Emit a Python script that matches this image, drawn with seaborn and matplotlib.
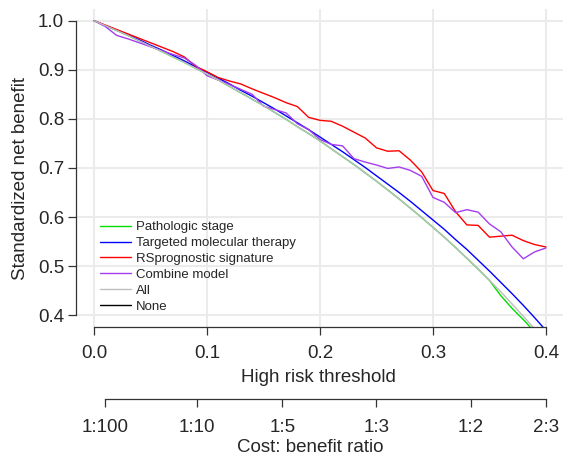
import numpy as np
import pandas as pd
import matplotlib
matplotlib.use("Agg")
import matplotlib.pyplot as plt
import seaborn as sns

# ---------------- data ----------------
thresholds = [round(0.01 * i, 2) for i in range(41)]

pathologic_stage = [1.000, 0.990, 0.980, 0.970, 0.959, 0.948, 0.937, 0.926, 0.915, 0.903,
                    0.891, 0.879, 0.866, 0.853, 0.840, 0.827, 0.813, 0.799, 0.784, 0.770,
                    0.755, 0.739, 0.723, 0.707, 0.690, 0.673, 0.655, 0.637, 0.618, 0.599,
                    0.579, 0.559, 0.538, 0.516, 0.494, 0.471, 0.440, 0.414, 0.391, 0.366,
                    0.340]
targeted_therapy = [1.000, 0.990, 0.981, 0.971, 0.961, 0.950, 0.940, 0.929, 0.918, 0.906,
                    0.895, 0.883, 0.871, 0.858, 0.846, 0.833, 0.820, 0.806, 0.792, 0.778,
                    0.763, 0.748, 0.733, 0.717, 0.701, 0.684, 0.667, 0.650, 0.632, 0.613,
                    0.594, 0.575, 0.554, 0.534, 0.512, 0.490, 0.467, 0.444, 0.420, 0.395,
                    0.369]
rs_signature = [1.000, 0.991, 0.982, 0.973, 0.964, 0.955, 0.946, 0.937, 0.926, 0.907,
                0.896, 0.884, 0.877, 0.871, 0.861, 0.852, 0.843, 0.833, 0.825, 0.803,
                0.797, 0.795, 0.785, 0.773, 0.761, 0.741, 0.734, 0.735, 0.716, 0.692,
                0.654, 0.648, 0.611, 0.584, 0.583, 0.559, 0.561, 0.563, 0.552, 0.544,
                0.539]
combine_model = [1.000, 0.988, 0.970, 0.963, 0.955, 0.947, 0.939, 0.931, 0.924, 0.909,
                 0.888, 0.879, 0.870, 0.860, 0.850, 0.826, 0.819, 0.812, 0.790, 0.778,
                 0.758, 0.748, 0.745, 0.719, 0.712, 0.706, 0.699, 0.702, 0.695, 0.683,
                 0.640, 0.630, 0.609, 0.615, 0.610, 0.586, 0.570, 0.539, 0.515, 0.529,
                 0.537]
treat_all = [1.000, 0.990, 0.980, 0.970, 0.959, 0.948, 0.937, 0.926, 0.915, 0.903,
             0.891, 0.879, 0.866, 0.853, 0.840, 0.827, 0.813, 0.799, 0.784, 0.770,
             0.755, 0.739, 0.723, 0.707, 0.690, 0.673, 0.655, 0.637, 0.618, 0.599,
             0.579, 0.559, 0.538, 0.516, 0.494, 0.471, 0.448, 0.423, 0.398, 0.372,
             0.345]
treat_none = [0.0] * 41

series_names = ["Pathologic stage", "Targeted molecular therapy", "RSprognostic signature",
                "Combine model", "All", "None"]
series_colors = ["#00DD00", "#0000FF", "#FF0000", "#A43CF0", "#BEBEBE", "#000000"]

x_ticks = [0.0, 0.1, 0.2, 0.3, 0.4]
x_tick_labels = ["0.0", "0.1", "0.2", "0.3", "0.4"]
y_ticks = [0.4, 0.5, 0.6, 0.7, 0.8, 0.9, 1.0]
y_tick_labels = ["0.4", "0.5", "0.6", "0.7", "0.8", "0.9", "1.0"]
cb_ticks = [1 / 101, 1 / 11, 1 / 6, 1 / 4, 1 / 3, 2 / 5]
cb_labels = ["1:100", "1:10", "1:5", "1:3", "1:2", "2:3"]

# ---------------- build long table ----------------
all_series = [pathologic_stage, targeted_therapy, rs_signature, combine_model, treat_all, treat_none]
frames = []
for name, vals in zip(series_names, all_series):
    frames.append(pd.DataFrame({"threshold": thresholds, "snb": vals, "model": name}))
df = pd.concat(frames, ignore_index=True)

# ---------------- style ----------------
sns.set_style("white")
plt.rcParams["font.family"] = ["Liberation Sans", "DejaVu Sans"]
text_color = "#262626"
FS = 13.5

W, H = 563, 457
fig = plt.figure(figsize=(W / 100, H / 100), dpi=100)
ax_left, ax_right, ax_top, ax_bottom = 76, 564, 8.9, 327
ax = fig.add_axes([ax_left / W, 1 - ax_bottom / H, (ax_right - ax_left) / W, (ax_bottom - ax_top) / H])

sns.lineplot(data=df, x="threshold", y="snb", hue="model", hue_order=series_names,
             palette=dict(zip(series_names, series_colors)), linewidth=1.0, ax=ax,
             legend=False, sort=False, estimator=None)

ax.set_xlim(-0.016, 0.416)
ax.set_ylim(0.376, 1.024)
ax.set_xticks(x_ticks)
ax.set_xticklabels(x_tick_labels)
ax.set_yticks(y_ticks)
ax.set_yticklabels(y_tick_labels)
ax.grid(True, color="#EBEBEB", linewidth=1.5)
ax.set_axisbelow(True)
ax.set_xlabel("")
ax.set_ylabel("")

for s in ["top", "right"]:
    ax.spines[s].set_visible(False)
ax.spines["left"].set_bounds(0.4, 1.0)
ax.spines["bottom"].set_bounds(0.0, 0.4)
for s in ["left", "bottom"]:
    ax.spines[s].set_color("#333333")
    ax.spines[s].set_linewidth(0.9)
ax.tick_params(axis="both", direction="out", length=6, width=0.9, color="#333333",
               labelsize=FS, labelcolor=text_color, bottom=True, left=True)
ax.tick_params(axis="x", pad=7)
ax.tick_params(axis="y", pad=2.5)

# axis titles (pixel-placed)
fig.text(318 / W, 1 - 381.7 / H, "High risk threshold", ha="center", va="baseline",
         fontsize=FS, color=text_color)
fig.text(25 / W, 1 - 178.5 / H, "Standardized net benefit", ha="center", va="baseline",
         rotation=90, rotation_mode="anchor", fontsize=FS, color=text_color)

# legend
handles = [matplotlib.lines.Line2D([], [], color=c, lw=1.0) for c in series_colors]
fig.legend(handles, series_names, loc="upper left", bbox_to_anchor=(100 / W, 1 - 221 / H),
           bbox_transform=fig.transFigure, frameon=False, fontsize=9.5, handlelength=2.35,
           handletextpad=0.38, labelspacing=0.28, borderpad=0, borderaxespad=0,
           labelcolor=text_color)

# cost:benefit axis
cb_y = 399.3
ax2 = fig.add_axes([ax_left / W, 1 - cb_y / H, (ax_right - ax_left) / W, 0.001])
ax2.set_xlim(-0.016, 0.416)
ax2.set_yticks([])
ax2.patch.set_visible(False)
for s in ["top", "right", "left"]:
    ax2.spines[s].set_visible(False)
ax2.spines["bottom"].set_bounds(cb_ticks[0], cb_ticks[-1])
ax2.spines["bottom"].set_color("#333333")
ax2.spines["bottom"].set_linewidth(0.9)
ax2.set_xticks(cb_ticks)
ax2.set_xticklabels(cb_labels)
ax2.tick_params(axis="x", direction="out", length=6, width=0.9, color="#333333",
                labelsize=FS, labelcolor=text_color, pad=8.3, bottom=True)
fig.text(310.5 / W, 1 - 452 / H, "Cost: benefit ratio", ha="center", va="baseline",
         fontsize=FS, color=text_color)

fig.savefig("out.png", dpi=100)
